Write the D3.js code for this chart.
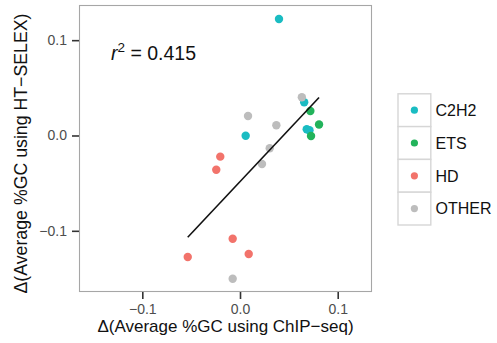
<!DOCTYPE html>
<html><head><meta charset="utf-8">
<script src="https://cdn.jsdelivr.net/npm/d3@7"></script>
<style>body{margin:0;background:#fff}svg{display:block;font-family:"Liberation Sans",Arial,sans-serif}</style>
</head><body>
<svg id="c" width="497" height="343"></svg>
<script>
const categories = ["C2H2", "ETS", "HD", "OTHER"];
const colors = ["#1ABCC2", "#22B35B", "#F2736B", "#BDBDBD"];
const c2h2X = [0.0399, 0.0657, 0.0683, 0.0711, 0.0058];
const c2h2Y = [0.1222, 0.0349, 0.0065, 0.0055, -0.0002];
const etsX = [0.0720, 0.0809, 0.0727];
const etsY = [0.0257, 0.0115, -0.0005];
const hdX = [-0.0202, -0.0243, -0.0075, -0.0535, 0.0089];
const hdY = [-0.0222, -0.0359, -0.1083, -0.1275, -0.1243];
const otherX = [0.0633, 0.0082, 0.0372, 0.0304, 0.0225, -0.0075];
const otherY = [0.0401, 0.0205, 0.0107, -0.0134, -0.0299, -0.1503];
const fitX = [-0.0535, 0.0809];
const fitY = [-0.1068, 0.0399];
const xTicks = [-0.1, 0.0, 0.1];
const yTicks = [-0.1, 0.0, 0.1];
const r2Label = "0.415";
const xTitle = "Δ(Average %GC using ChIP−seq)";
const yTitle = "Δ(Average %GC using HT−SELEX)";

const series = [[c2h2X, c2h2Y], [etsX, etsY], [hdX, hdY], [otherX, otherY]];
const svg = d3.select("#c");
const L = 79, R = 372, T = 5, B = 292;
const x = d3.scaleLinear().domain([-0.1648, 0.1351]).range([L, R]);
const y = d3.scaleLinear().domain([-0.1642, 0.1369]).range([B, T]);
const fmt = d3.format(".1f");
const tf = d => fmt(d).replace("-", "−");

// panel
svg.append("rect").attr("x", L + 0.5).attr("y", T + 0.5).attr("width", R - L - 1).attr("height", B - T - 1)
  .attr("fill", "#fff").attr("stroke", "#A6A6A6").attr("stroke-width", 1.1);

// axes
const xa = svg.append("g").attr("transform", `translate(0,${B})`)
  .call(d3.axisBottom(x).tickValues(xTicks).tickFormat(tf).tickSize(7).tickPadding(5));
const ya = svg.append("g").attr("transform", `translate(${L},0)`)
  .call(d3.axisLeft(y).tickValues(yTicks).tickFormat(tf).tickSize(7).tickPadding(5));
[xa, ya].forEach(g => {
  g.select(".domain").remove();
  g.selectAll(".tick line").attr("stroke", "#333").attr("stroke-width", 1.6);
  g.selectAll(".tick text").attr("fill", "#4D4D4D").attr("font-size", 14).attr("font-family", "Liberation Sans, Arial, sans-serif");
});

// points
series.forEach((s, i) => {
  const pts = s[0].map((v, j) => [v, s[1][j]]);
  svg.append("g").selectAll("circle").data(pts).join("circle")
    .attr("cx", d => x(d[0])).attr("cy", d => y(d[1])).attr("r", 4.2)
    .attr("fill", colors[i]);
});

// fit line
svg.append("path").datum(fitX.map((v, j) => [v, fitY[j]]))
  .attr("d", d3.line().x(d => x(d[0])).y(d => y(d[1])))
  .attr("stroke", "#111").attr("stroke-width", 1.6).attr("fill", "none");

// r^2 annotation
const rt = svg.append("text").attr("x", 111).attr("y", 59.5).attr("font-size", 19.5).attr("fill", "#111");
rt.append("tspan").attr("font-style", "italic").text("r");
rt.append("tspan").attr("font-size", 13.5).attr("dy", -8).text("2");
rt.append("tspan").attr("dy", 8).text(" = " + r2Label);

// titles
svg.append("text").attr("x", (L + R) / 2).attr("y", 332).attr("text-anchor", "middle")
  .attr("font-size", 17).attr("fill", "#111").text(xTitle);
svg.append("text").attr("transform", `translate(26.5,153.5) rotate(-90)`).attr("text-anchor", "middle")
  .attr("font-size", 18).attr("textLength", 280).attr("lengthAdjust", "spacingAndGlyphs")
  .attr("fill", "#111").text(yTitle);

// legend
const kx = 398, ky = 93.8, kw = 32.8, kh = 32.8;
const lg = svg.append("g");
categories.forEach((c, i) => {
  lg.append("rect").attr("x", kx).attr("y", ky + i * kh).attr("width", kw).attr("height", kh)
    .attr("fill", "#fff").attr("stroke", "#D6D6D6").attr("stroke-width", 1.4);
  lg.append("circle").attr("cx", kx + kw / 2).attr("cy", ky + i * kh + kh / 2).attr("r", 3.6).attr("fill", colors[i]);
  lg.append("text").attr("x", 435.5).attr("y", ky + i * kh + kh / 2 + 5.8).attr("font-size", 16)
    .attr("fill", "#111").text(c);
});
</script>
</body></html>
